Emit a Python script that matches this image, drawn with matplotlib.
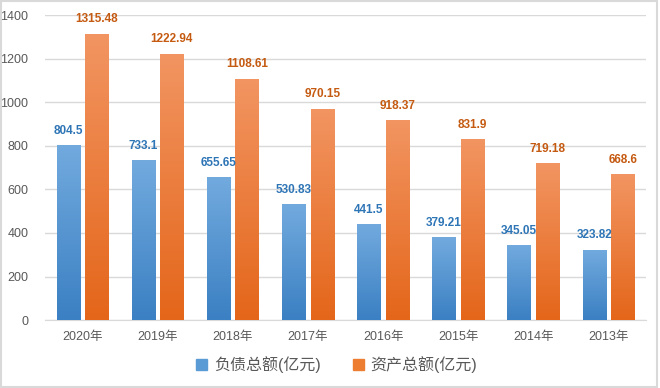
import matplotlib.pyplot as plt
import numpy as np
from matplotlib.colors import LinearSegmentedColormap
from matplotlib.patches import Rectangle

plt.rcParams['font.family'] = ['Liberation Sans', 'Noto Sans CJK SC', 'DejaVu Sans']

years = ['2020年', '2019年', '2018年', '2017年', '2016年', '2015年', '2014年', '2013年']
debt = [804.5, 733.1, 655.65, 530.83, 441.5, 379.21, 345.05, 323.82]
assets = [1315.48, 1222.94, 1108.61, 970.15, 918.37, 831.9, 719.18, 668.6]
debt_labels = ['804.5', '733.1', '655.65', '530.83', '441.5', '379.21', '345.05', '323.82']
asset_labels = ['1315.48', '1222.94', '1108.61', '970.15', '918.37', '831.9', '719.18', '668.6']

fig = plt.figure(figsize=(6.6, 3.88), dpi=100)
ax = fig.add_axes([0.068, 0.175, 0.911, 0.786])

x = np.arange(len(years))
w = 0.31
off = 0.19

blue_cmap = LinearSegmentedColormap.from_list('b', ['#3b80c3', '#72aade'])
orange_cmap = LinearSegmentedColormap.from_list('o', ['#e4661a', '#f29562'])

b1 = ax.bar(x - off, debt, w, color='#5b9bd5', zorder=2)
b2 = ax.bar(x + off, assets, w, color='#ed7d31', zorder=2)

# vertical gradient inside each bar
grad = np.linspace(0, 1, 256).reshape(-1, 1)
for bars, cmap in ((b1, blue_cmap), (b2, orange_cmap)):
    for bar in bars:
        x0, y0 = bar.get_x(), bar.get_y()
        bw, bh = bar.get_width(), bar.get_height()
        im = ax.imshow(grad, cmap=cmap, origin='lower', aspect='auto',
                       extent=[x0, x0 + bw, y0, y0 + bh], zorder=3)
        im.set_clip_path(bar)

for xi, v, s in zip(x, debt, debt_labels):
    ax.annotate(s, (xi - off, v), xytext=(0, 6), textcoords='offset points',
                ha='center', va='bottom', fontsize=8.5, fontweight='bold', color='#2e75b6')
for xi, v, s in zip(x, assets, asset_labels):
    ax.annotate(s, (xi + off, v), xytext=(0, 6), textcoords='offset points',
                ha='center', va='bottom', fontsize=8.5, fontweight='bold', color='#c55a11')

ax.set_xlim(-0.5, len(years) - 0.5)
ax.set_ylim(0, 1400)
ax.set_yticks(np.arange(0, 1401, 200))
ax.set_xticks(x)
ax.set_xticklabels(years)
ax.tick_params(length=0, labelsize=9, colors='#595959')
ax.tick_params(axis='x', pad=8)
ax.tick_params(axis='y', pad=12)
ax.grid(axis='y', color='#d9d9d9', linewidth=1, zorder=0)
for sp in ['top', 'right', 'left']:
    ax.spines[sp].set_visible(False)
ax.spines['bottom'].set_color('#d9d9d9')

h1 = Rectangle((0, 0), 1, 1, color='#5b9bd5')
h2 = Rectangle((0, 0), 1, 1, color='#ed7d31')
leg = fig.legend([h1, h2], ['负债总额(亿元)', '资产总额(亿元)'], loc='center',
                 bbox_to_anchor=(0.51, 0.06), ncol=2, frameon=False, fontsize=11.5,
                 handlelength=0.7, handleheight=0.7, columnspacing=2.0, handletextpad=0.4)
for t in leg.get_texts():
    t.set_color('#595959')

fig.patches.append(Rectangle((0.002, 0.003), 0.993, 0.994, transform=fig.transFigure,
                             fill=False, edgecolor='#d9d9d9', linewidth=1.5))

fig.savefig('out.png', dpi=100)
